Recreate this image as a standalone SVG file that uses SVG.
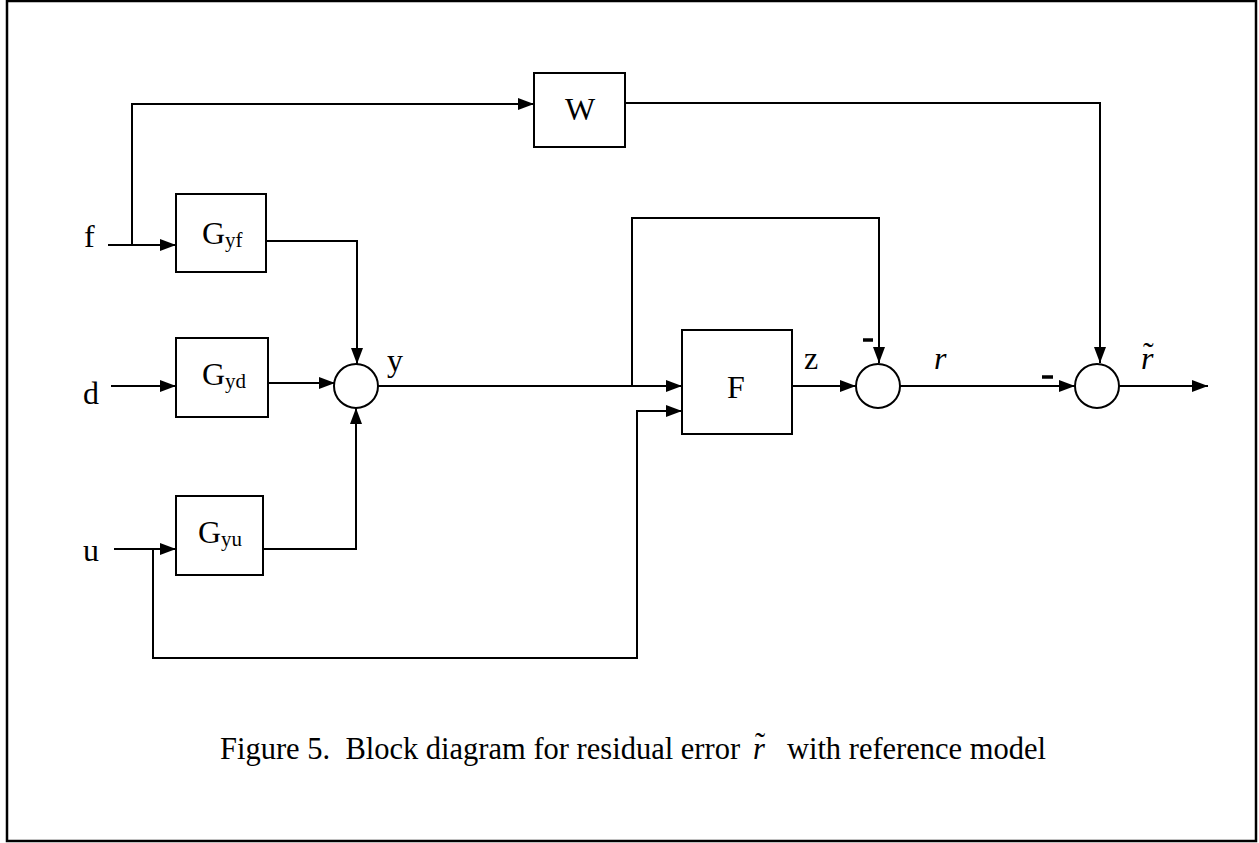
<svg xmlns="http://www.w3.org/2000/svg" width="1259" height="843" viewBox="0 0 1259 843">
  <style>
    .ln { fill: none; stroke: #000; stroke-width: 2; }
    .box { fill: #fff; stroke: #000; stroke-width: 2; }
    .sum { fill: #fff; stroke: #000; stroke-width: 2; }
    .t { font-family: "Liberation Serif", "Times New Roman", serif; fill: #000; white-space: pre; }
    .big { font-size: 32px; }
    .sub { font-size: 21px; }
    .it { font-style: italic; }
    .up { font-style: normal; }
    .cap { font-size: 30.5px; }
    .minus { stroke: #000; stroke-width: 3.5; }
  </style>
  <defs>
    <marker id="arrow" viewBox="0 0 16 12" refX="16" refY="6" markerWidth="16" markerHeight="12" markerUnits="userSpaceOnUse" orient="auto">
      <path d="M0,0 L16,6 L0,12 z" fill="#000"/>
    </marker>
  </defs>

  <rect width="1259" height="843" fill="#fff"/>
  <!-- frame -->
  <rect x="7" y="1" width="1249" height="840" fill="none" stroke="#000" stroke-width="2.5"/>

  <!-- connectors -->
  <g id="connectors">
    <!-- f into Gyf, branch up to W -->
    <path class="ln" d="M108,245 H176" marker-end="url(#arrow)"/>
    <path class="ln" d="M132,245 V104 H534" marker-end="url(#arrow)"/>
    <!-- d into Gyd -->
    <path class="ln" d="M111,386 H176" marker-end="url(#arrow)"/>
    <!-- u into Gyu, branch to F -->
    <path class="ln" d="M114,549 H176" marker-end="url(#arrow)"/>
    <path class="ln" d="M153,549 V658 H637 V411 H682" marker-end="url(#arrow)"/>
    <!-- block outputs into first summing junction -->
    <path class="ln" d="M265,241 H357 V364" marker-end="url(#arrow)"/>
    <path class="ln" d="M268,383 H335" marker-end="url(#arrow)"/>
    <path class="ln" d="M263,549 H356 V408" marker-end="url(#arrow)"/>
    <!-- y into F, branch over to second junction -->
    <path class="ln" d="M378,386 H682" marker-end="url(#arrow)"/>
    <path class="ln" d="M632,386 V218 H879 V363" marker-end="url(#arrow)"/>
    <!-- z into second junction -->
    <path class="ln" d="M792,386 H856" marker-end="url(#arrow)"/>
    <!-- r into third junction -->
    <path class="ln" d="M900,386 H1075" marker-end="url(#arrow)"/>
    <!-- W output down to third junction -->
    <path class="ln" d="M624,103 H1100 V363" marker-end="url(#arrow)"/>
    <!-- final output -->
    <path class="ln" d="M1119,386 H1208" marker-end="url(#arrow)"/>
    <!-- sign marks -->
    <line class="minus" x1="863" y1="340" x2="873" y2="340"/>
    <line class="minus" x1="1042" y1="377" x2="1053" y2="377"/>
  </g>

  <!-- signal labels -->
  <g id="signals">
    <text class="t big" x="84" y="247">f</text>
    <text class="t big" x="83" y="404">d</text>
    <text class="t big" x="83" y="561">u</text>
    <text class="t big" x="387" y="371">y</text>
    <text class="t big" x="804" y="369">z</text>
    <text class="t big it" x="934" y="369">r</text>
    <text class="t big it" x="1141" y="369">r<tspan class="up" x="1143" y="364">˜</tspan></text>
  </g>

  <g id="W">
    <rect class="box" x="534" y="73" width="91" height="74"/>
    <text class="t big" x="580" y="120" text-anchor="middle">W</text>
  </g>

  <g id="Gyf">
    <rect class="box" x="176" y="194" width="90" height="78"/>
    <text class="t big" x="202" y="244">G<tspan class="sub" dy="3">yf</tspan></text>
  </g>

  <g id="Gyd">
    <rect class="box" x="176" y="338" width="92" height="79"/>
    <text class="t big" x="202" y="385">G<tspan class="sub" dy="3">yd</tspan></text>
  </g>

  <g id="Gyu">
    <rect class="box" x="176" y="496" width="87" height="79"/>
    <text class="t big" x="198" y="543">G<tspan class="sub" dy="3">yu</tspan></text>
  </g>

  <g id="F">
    <rect class="box" x="682" y="330" width="110" height="104"/>
    <text class="t big" x="736" y="398" text-anchor="middle">F</text>
  </g>

  <g id="sum1">
    <circle class="sum" cx="356" cy="386" r="22"/>
  </g>
  <g id="sum2">
    <circle class="sum" cx="878" cy="386" r="22"/>
  </g>
  <g id="sum3">
    <circle class="sum" cx="1097" cy="386" r="22"/>
  </g>

  <!-- caption -->
  <g id="caption">
    <text class="t cap" x="220" y="759">Figure 5.  Block diagram for residual error</text>
    <text class="t cap it" x="753" y="759">r<tspan class="up" x="755" y="754">˜</tspan></text>
    <text class="t cap" x="1046" y="759" text-anchor="end">with reference model</text>
  </g>
</svg>
